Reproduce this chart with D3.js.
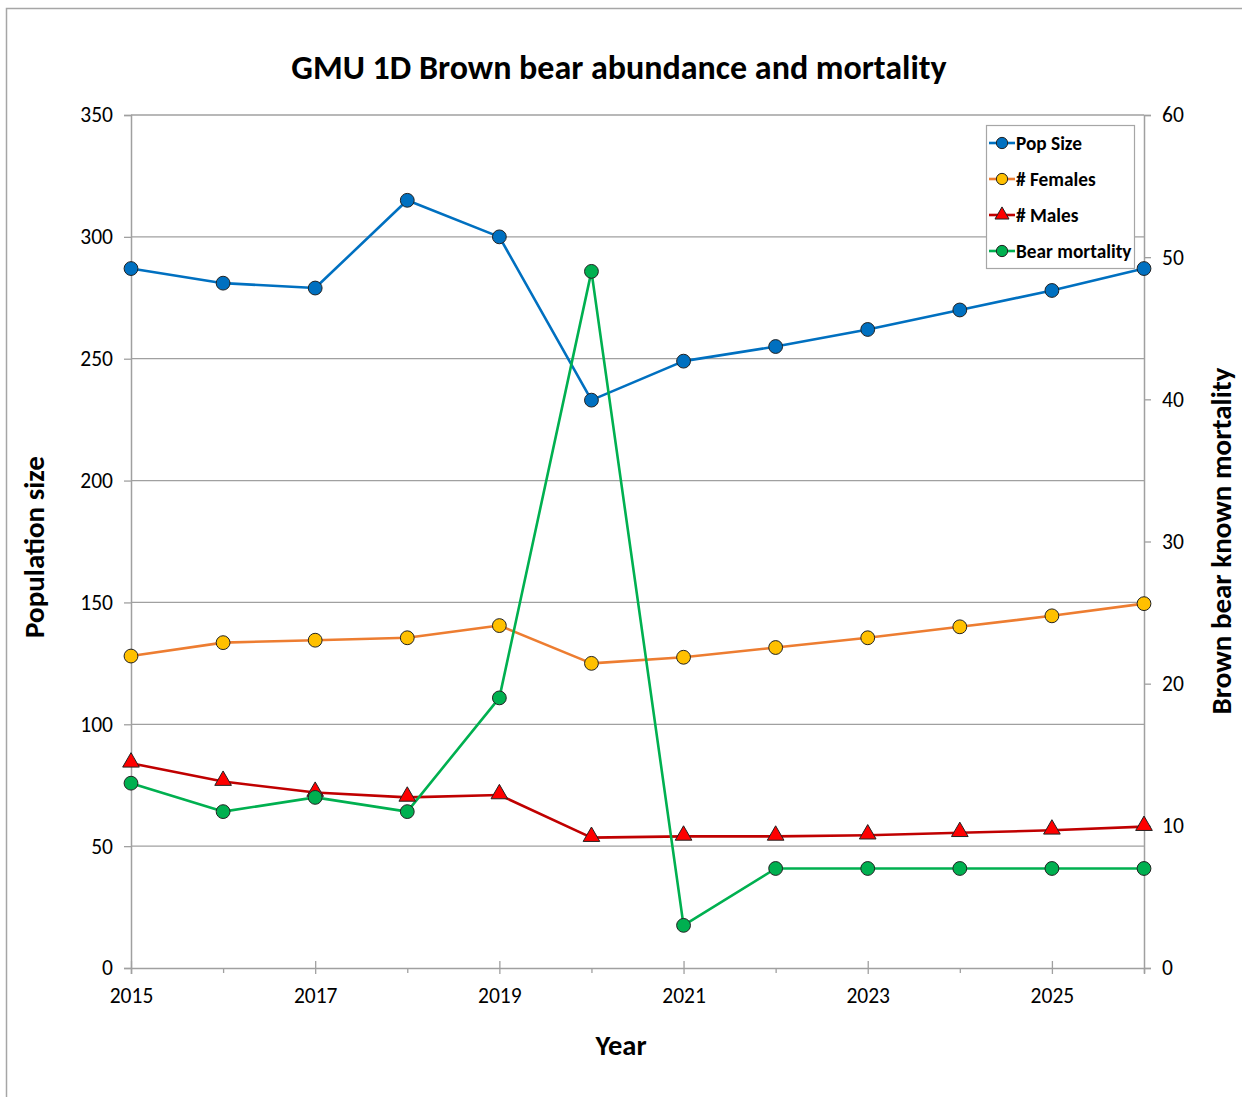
<!DOCTYPE html>
<html>
<head>
<meta charset="utf-8">
<script src="https://cdn.jsdelivr.net/npm/d3@7"></script>
<style>
  body { margin: 0; background: #fff; }
  svg text { font-family: Calibri, Carlito, Lato, "Open Sans", sans-serif; fill: #000; }
</style>
</head>
<body>
<div id="chart"></div>
<script>
// data
var years = [2015, 2016, 2017, 2018, 2019, 2020, 2021, 2022, 2023, 2024, 2025, 2026]
var popSize = [287, 281, 279, 315, 300, 233, 249, 255, 262, 270, 278, 287]
var females = [128, 133.5, 134.5, 135.5, 140.5, 125, 127.5, 131.5, 135.5, 140, 144.5, 149.5]
var males = [84, 76.5, 72, 70, 71, 53.5, 54, 54, 54.5, 55.5, 56.5, 58]
var mortality = [13, 11, 12, 11, 19, 49, 3, 7, 7, 7, 7, 7]
var leftTicks = [0, 50, 100, 150, 200, 250, 300, 350]
var rightTicks = [0, 10, 20, 30, 40, 50, 60]
var yearLabels = [2015, 2017, 2019, 2021, 2023, 2025]

var W = 1242, H = 1097
var margin = { top: 115, right: 98, bottom: 129, left: 131 }
var width = W - margin.left - margin.right
var height = H - margin.top - margin.bottom

var svg = d3.select('#chart').append('svg')
  .attr('width', W).attr('height', H)

// outer frame (clipped at right/bottom like the original)
svg.append('path')
  .attr('d', 'M6.5,' + H + ' V8.5 H' + W)
  .attr('fill', 'none').attr('stroke', '#a6a6a6').attr('stroke-width', 1.5)

var g = svg.append('g')
  .attr('transform', 'translate(' + margin.left + ',' + margin.top + ')')

var x = d3.scaleLinear().domain([2015, 2026]).range([0, width])
var y = d3.scaleLinear().domain([0, 350]).range([height, 0])
var y2 = d3.scaleLinear().domain([0, 60]).range([height, 0])

// gridlines
g.selectAll('.grid').data(leftTicks.slice(1)).enter().append('line')
  .attr('x1', 0).attr('x2', width)
  .attr('y1', function (d) { return y(d) }).attr('y2', function (d) { return y(d) })
  .attr('stroke', '#a0a0a0').attr('stroke-width', 1.3)

// left axis
g.append('g').call(d3.axisLeft(y).tickValues(leftTicks).tickSize(7).tickPadding(11))
// right axis
g.append('g').attr('transform', 'translate(' + width + ',0)')
  .call(d3.axisRight(y2).tickValues(rightTicks).tickSize(7).tickPadding(11))
// bottom axis: major ticks cross, minor ticks outside
var xAxis = g.append('g').attr('transform', 'translate(0,' + height + ')')
  .call(d3.axisBottom(x).tickValues(yearLabels).tickFormat(d3.format('d')).tickSize(6).tickPadding(14))
xAxis.selectAll('.tick line').attr('y1', -7)
g.append('g').attr('transform', 'translate(0,' + height + ')')
  .call(d3.axisBottom(x).tickValues(years.filter(function (d) { return d % 2 === 0 })).tickFormat('').tickSize(5))
  .select('.domain').remove()

g.selectAll('.domain').attr('stroke', '#a0a0a0').attr('stroke-width', 1.5)
g.selectAll('.tick line').attr('stroke', '#a0a0a0').attr('stroke-width', 1.3)
g.selectAll('.tick text').style('font-size', '21.5px').attr('fill', '#000')

var series = [
  { name: 'Pop Size', values: popSize, scale: y, line: '#0070c0', fill: '#0070c0', shape: 'circle' },
  { name: '# Females', values: females, scale: y, line: '#ed7d31', fill: '#ffc000', shape: 'circle' },
  { name: '# Males', values: males, scale: y, line: '#c00000', fill: '#ff0000', shape: 'triangle' },
  { name: 'Bear mortality', values: mortality, scale: y2, line: '#00b050', fill: '#00b050', shape: 'circle' }
]

var circleSym = d3.symbol().type(d3.symbolCircle).size(150)
var triSym = d3.symbol().type(d3.symbolTriangle).size(120)

series.forEach(function (s) {
  var line = d3.line()
    .x(function (d, i) { return x(years[i]) })
    .y(function (d) { return s.scale(d) })
  g.append('path').datum(s.values)
    .attr('fill', 'none').attr('stroke', s.line).attr('stroke-width', 2.6)
    .attr('stroke-linejoin', 'round')
    .attr('d', line)
})
series.forEach(function (s) {
  g.selectAll(null).data(s.values).enter().append('path')
    .attr('d', s.shape === 'circle' ? circleSym : triSym)
    .attr('transform', function (d, i) {
      return 'translate(' + x(years[i]) + ',' + (s.scale(d) - (s.shape === 'triangle' ? 1 : 0)) + ')'
    })
    .attr('fill', s.fill).attr('stroke', '#222').attr('stroke-width', 1)
})

// legend
var legend = svg.append('g').attr('transform', 'translate(986,125)')
legend.append('rect').attr('x', 0.5).attr('y', 0.5).attr('width', 148).attr('height', 143)
  .attr('fill', '#fff').attr('stroke', '#a6a6a6').attr('stroke-width', 1.2)
series.forEach(function (s, i) {
  var ly = 18 + i * 36
  var row = legend.append('g').attr('transform', 'translate(0,' + ly + ')')
  row.append('line').attr('x1', 3).attr('x2', 29).attr('y1', 0).attr('y2', 0)
    .attr('stroke', s.line).attr('stroke-width', 2.6)
  row.append('path').attr('d', s.shape === 'circle' ? d3.symbol().type(d3.symbolCircle).size(100)
    : d3.symbol().type(d3.symbolTriangle).size(85))
    .attr('transform', 'translate(16,0)')
    .attr('fill', s.fill).attr('stroke', '#222').attr('stroke-width', 1)
  row.append('text').attr('x', 30).attr('y', 6.5)
    .style('font-size', '19.3px').style('font-weight', 'bold').text(s.name)
})

// title and axis titles
svg.append('text').attr('x', 619).attr('y', 79).attr('text-anchor', 'middle')
  .style('font-size', '34px').style('font-weight', 'bold')
  .text('GMU 1D Brown bear abundance and mortality')
svg.append('text').attr('x', 621).attr('y', 1055).attr('text-anchor', 'middle')
  .style('font-size', '28.5px').style('font-weight', 'bold').text('Year')
svg.append('text').attr('transform', 'translate(44,547) rotate(-90)').attr('text-anchor', 'middle')
  .style('font-size', '29px').style('font-weight', 'bold').text('Population size')
svg.append('text').attr('transform', 'translate(1231,541) rotate(-90)').attr('text-anchor', 'middle')
  .style('font-size', '29px').style('font-weight', 'bold').text('Brown bear known mortality')
</script>
</body>
</html>
